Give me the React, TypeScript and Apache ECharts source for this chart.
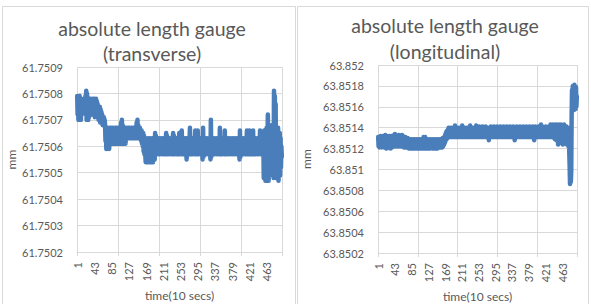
import React, { useEffect, useRef } from "react";
import * as echarts from "echarts";

const categories: string[] = Array.from({ length: 500 }, (_, i) => String(i + 1));

const yTicksTransverse = { min: 61.7502, max: 61.7509, step: 0.0001 };
const yTicksLongitudinal = { min: 63.8502, max: 63.852, step: 0.0002 };

const transverse: number[] = [
  61.75079,61.75072,61.75078,61.75070,61.75077,61.75071,61.75079,61.75073,61.75076,61.75070,61.75078,61.75072,61.75077,61.75073,61.75076,61.75074,61.75077,61.75073,61.75076,61.75074,
  61.75079,61.75072,61.75081,61.75070,61.75080,61.75073,61.75078,
  61.75070,61.75077,61.75071,61.75078,61.75072,61.75078,61.75073,61.75077,61.75072,61.75078,61.75072,61.75077,61.75073,61.75078,61.75072,61.75078,61.75071,61.75077,61.75073,61.75078,61.75072,61.75077,61.75072,61.75076,
  61.75076,61.75070,61.75075,61.75070,61.75075,61.75069,61.75074,61.75069,61.75073,61.75069,61.75072,61.75068,61.75071,61.75068,61.75071,61.75068,61.75070,
  61.75068,61.75062,61.75067,61.75059,61.75066,61.75060,61.75067,61.75061,
  61.75060,61.75066,61.75059,61.75065,
  61.75067,61.75061,61.75066,61.75062,61.75067,61.75061,61.75067,61.75062,61.75066,61.75061,61.75067,61.75061,61.75066,61.75062,61.75067,61.75061,61.75067,61.75062,61.75066,61.75061,61.75067,61.75062,61.75066,61.75061,61.75067,61.75061,61.75066,
  61.75069,61.75062,61.75070,61.75061,61.75068,
  61.75062,61.75067,61.75061,61.75066,61.75063,61.75067,61.75061,61.75067,
  61.75063,61.75067,61.75063,61.75066,61.75063,61.75067,61.75063,61.75067,61.75064,61.75066,61.75063,61.75067,61.75063,61.75067,61.75063,61.75066,61.75063,61.75067,61.75064,61.75067,61.75063,61.75066,61.75063,61.75067,61.75063,
  61.75069,61.75063,61.75070,61.75063,61.75068,61.75064,61.75067,
  61.75063,61.75067,61.75063,61.75066,61.75062,61.75066,61.75061,61.75065,
  61.75060,61.75065,61.75058,61.75064,61.75057,61.75063,61.75057,
  61.75054,61.75063,61.75055,61.75062,61.75054,61.75063,61.75056,61.75062,61.75054,61.75063,61.75055,61.75062,61.75054,61.75063,61.75057,61.75062,61.75055,61.75063,61.75054,61.75062,61.75056,61.75063,61.75055,
  61.75065,61.75057,61.75064,
  61.75057,61.75063,61.75057,61.75062,61.75058,61.75063,61.75057,61.75062,61.75057,61.75063,61.75058,61.75062,61.75057,61.75063,61.75057,61.75062,61.75058,61.75063,61.75057,61.75062,61.75057,61.75063,61.75057,61.75062,
  61.75065,61.75057,61.75064,
  61.75057,61.75063,61.75058,61.75062,61.75057,61.75063,61.75057,61.75062,61.75058,61.75063,61.75057,61.75062,61.75057,61.75063,
  61.75065,61.75057,61.75064,
  61.75057,61.75063,61.75057,61.75062,61.75058,61.75063,61.75057,61.75062,61.75057,61.75063,61.75057,61.75062,61.75065,
  61.75057,61.75063,61.75058,61.75062,61.75057,61.75066,61.75057,61.75063,61.75058,61.75062,
  61.75057,61.75063,61.75057,61.75062,61.75058,61.75063,61.75057,61.75055,61.75063,61.75057,61.75062,61.75058,61.75063,61.75057,61.75062,61.75067,61.75057,61.75063,61.75058,61.75062,
  61.75057,61.75063,61.75057,61.75062,61.75058,61.75063,61.75057,61.75062,61.75066,61.75057,61.75063,61.75058,61.75062,61.75057,61.75066,61.75057,61.75063,61.75057,61.75062,61.75058,
  61.75063,61.75057,61.75062,61.75058,61.75063,61.75057,61.75055,61.75067,61.75056,61.75063,61.75057,61.75062,61.75058,61.75063,61.75057,61.75062,61.75057,61.75063,61.75058,61.75062,
  61.75057,61.75063,61.75057,61.75062,61.75058,61.75055,61.75070,61.75056,61.75063,61.75057,61.75062,61.75058,61.75063,61.75057,61.75062,61.75057,61.75063,61.75058,61.75062,61.75057,
  61.75063,61.75057,61.75062,61.75058,61.75063,61.75057,61.75062,61.75057,61.75067,61.75057,61.75063,61.75058,61.75062,61.75057,61.75063,61.75057,61.75062,61.75058,61.75063,61.75057,
  61.75066,61.75057,61.75063,61.75058,61.75062,61.75057,61.75063,61.75057,61.75062,61.75058,61.75063,61.75057,61.75062,61.75057,61.75063,61.75058,61.75062,61.75057,61.75063,61.75057,
  61.75062,61.75058,61.75063,61.75057,61.75062,61.75057,61.75063,61.75058,61.75062,61.75057,61.75063,61.75057,61.75062,61.75058,61.75063,61.75057,61.75055,61.75066,61.75056,61.75063,
  61.75057,61.75062,61.75058,61.75063,61.75057,61.75062,61.75057,61.75063,61.75058,61.75062,61.75057,61.75063,61.75057,61.75062,61.75066,61.75057,61.75063,61.75058,61.75062,61.75057,
  61.75066,61.75057,61.75063,61.75058,61.75062,61.75057,61.75063,61.75057,61.75062,61.75066,61.75057,61.75063,61.75058,61.75062,61.75057,61.75063,61.75057,61.75062,61.75058,61.75063,
  61.75057,61.75062,61.75057,61.75063,61.75058,61.75062,61.75066,61.75057,61.75063,61.75057,61.75062,61.75058,61.75063,61.75057,
  61.75063,61.75048,61.75066,61.75052,61.75064,61.75047,61.75062,61.75050,61.75067,61.75048,61.75060,61.75072,61.75054,61.75047,61.75063,61.75049,61.75066,
  61.75054,61.75066,61.75055,61.75068,61.75053,61.75067,61.75056,61.75066,
  61.75048,61.75081,61.75050,61.75079,61.75060,61.75076,61.75048,
  61.75066,61.75048,61.75064,61.75052,61.75067,61.75047,61.75062,61.75050,61.75065,61.75049,61.75063,61.75052,61.75060,61.75056,
];

const longitudinal: number[] = [
  63.85131,63.85122,63.8513,63.85121,63.85131,63.85123,63.85132,63.85122,63.8513,63.85121,
  63.85131,63.85122,63.85132,63.85123,63.8513,63.85121,63.85131,63.85122,63.85133,63.85123,
  63.85131,63.8512,63.85132,63.85121,63.8513,63.85122,63.85131,63.85123,63.85132,63.85121,
  63.8513,63.8512,63.85131,63.85122,63.85132,63.85121,63.8513,63.85123,63.85131,63.85122,
  63.85133,63.85123,63.85134,63.85122,63.85133,
  63.85123,63.85132,63.85122,63.85131,63.85123,63.85132,63.85122,63.85133,63.85124,63.85131,
  63.85122,63.85132,63.85123,63.85131,63.85122,63.85133,63.85123,63.85132,63.85122,63.85131,
  63.85121,63.8513,63.85122,63.85131,63.85121,63.8513,63.85121,63.85129,63.85122,63.8513,
  63.85121,
  63.85129,63.8512,63.85128,63.85121,63.85129,63.8512,63.85128,63.85121,63.85129,63.8512,
  63.85128,63.85121,63.85129,63.8512,63.85128,63.85121,63.85129,63.8512,63.85128,63.85121,
  63.85129,63.8512,63.85128,63.85121,63.85129,63.8512,63.85128,63.85121,63.85129,63.8512,
  63.85128,63.85121,63.85129,63.8512,63.85128,63.85121,63.85129,63.85121,63.85131,63.8512,
  63.8513,63.85121,63.85131,63.8512,63.85129,63.85121,63.85128,63.8512,63.85129,63.85121,
  63.85128,63.8512,63.85129,63.85121,63.85128,63.8512,63.85129,63.85121,63.85128,63.85121,
  63.85129,63.8512,63.85128,63.85121,63.85129,63.8512,63.85128,63.85121,63.85129,63.8512,
  63.85128,63.85121,63.85129,63.8512,63.85128,63.85121,63.85129,63.85121,63.85128,63.85121,
  63.85129,63.85121,63.85128,63.85122,63.85129,63.85121,63.8513,63.85122,
  63.85123,63.8513,63.85124,63.85132,63.85126,63.85134,63.85128,63.85136,63.85129,63.85137,63.8513,63.85138,
  63.85131,63.8514,63.85131,63.85139,63.85132,63.8514,63.85131,63.85139,63.85131,63.8514,
  63.85132,63.85139,63.85131,63.8514,63.85131,63.85139,63.85131,63.85142,63.85131,63.8514,
  63.85132,63.85139,63.85131,63.8514,63.85131,63.85139,63.85132,63.8514,63.85131,63.85139,
  63.85131,63.8514,63.85132,63.85139,63.85131,63.85142,63.85131,63.8514,63.85132,63.85139,
  63.85131,63.8514,63.85131,63.85139,63.85132,63.8514,63.85131,63.85139,63.85131,63.8514,
  63.85132,63.85139,63.85131,63.8514,63.85131,63.85142,63.85131,63.8514,63.85132,63.85139,
  63.85131,63.8514,63.85131,63.85139,63.85132,63.8514,63.85131,63.85139,63.85131,63.8514,
  63.85142,63.85131,63.8514,63.85132,63.85139,
  63.85131,63.8514,63.85131,63.85141,63.85132,63.8514,63.85131,63.85139,63.85131,63.8514,63.85132,63.85141,63.85131,63.8514,63.85131,63.85139,63.85132,63.8514,63.85131,63.85141,
  63.85131,63.8514,63.85132,63.85139,63.85131,63.8514,63.85131,63.85128,63.85139,63.85131,63.8514,63.85132,63.85141,63.85131,63.8514,63.85131,63.85139,63.85132,63.8514,63.85131,
  63.85141,63.85131,63.8514,63.85132,63.85139,63.85131,63.8514,63.85131,63.85141,63.85132,63.8514,63.85131,63.85139,63.85131,63.8514,63.85132,63.85141,63.85131,63.8514,63.85131,
  63.85139,63.85132,63.8514,63.85131,63.85141,63.85131,63.8514,63.85132,63.85139,63.85131,63.8514,63.85131,63.85141,63.85132,63.8514,63.85131,63.85139,63.85131,63.8514,63.85132,
  63.85141,63.85131,63.8514,63.85131,63.85139,63.85132,63.8514,63.85131,63.85141,63.85131,63.8514,63.85131,63.85128,63.85139,63.85131,63.8514,63.85132,63.85141,63.85131,63.8514,
  63.85131,63.85139,63.85132,63.8514,63.85131,63.85141,63.85131,63.8514,63.85132,63.85139,63.85131,63.8514,63.85131,63.85141,63.85132,63.8514,63.85131,63.85139,63.85131,63.8514,
  63.85132,63.85141,63.85131,63.8514,63.85131,63.85139,63.85132,63.8514,63.85131,63.85141,63.85131,63.8514,63.85132,63.85139,63.85131,63.8514,63.85131,63.85141,63.85132,63.8514,
  63.85131,63.85128,63.8514,63.85131,63.85141,63.85132,63.8514,63.85131,63.85139,63.85131,63.8514,63.85132,63.85141,63.85131,63.8514,63.85131,63.85139,63.85132,63.85143,63.85131,
  63.8514,63.85131,63.85141,63.85132,63.8514,63.85131,63.85139,63.85131,63.8514,63.85132,63.85141,63.85131,63.8514,63.85131,63.85139,63.85132,63.8514,63.85131,63.85141,63.85131,
  63.8514,63.85132,63.85143,63.85131,63.8514,63.85131,63.85141,63.85132,63.85143,63.85131,63.8514,63.8513,63.85142,63.85129,63.85143,63.85131,63.85141,63.85128,63.85143,63.8513,63.85141,
  63.85124,63.85142,63.85127,63.85143,63.85125,63.85141,63.8513,63.85143,63.85126,63.85142,63.85128,63.8514,63.85124,63.85142,63.85129,63.85143,63.85127,63.85141,63.85125,63.8514,
  63.85128,63.85141,63.85124,63.85138,63.8513,63.8514,63.85122,63.85136,63.85118,63.85104,63.85086,63.85092,63.85088,63.85098,63.8515,63.85176,
  63.85158,63.8518,63.8516,63.85178,63.85157,63.85181,63.85162,63.85176,63.85158,63.85179,63.8516,63.8517,
];

const LINE_COLOR = "#4A7EBB";
const GRID_COLOR = "#d9d9d9";
const TEXT_COLOR = "#595959";
const FONT = "Lato";

const fmt = (v: number) => String(parseFloat(v.toFixed(4)));

function makeX(gridIndex: number) {
  return {
    type: "category",
    gridIndex,
    data: categories,
    boundaryGap: true,
    axisLine: { show: true, lineStyle: { color: GRID_COLOR, width: 1 } },
    axisTick: { show: true, interval: 99, length: 4, lineStyle: { color: GRID_COLOR } },
    axisLabel: { interval: 41, rotate: 90, margin: 10, color: TEXT_COLOR, fontFamily: FONT, fontSize: 11 },
    splitLine: { show: true, interval: 99, lineStyle: { color: GRID_COLOR, width: 1 } },
    name: "time(10 secs)",
    nameLocation: "middle",
    nameGap: 35,
    nameTextStyle: { color: TEXT_COLOR, fontFamily: FONT, fontSize: 12 },
  };
}

function makeY(gridIndex: number, t: { min: number; max: number; step: number }, gap: number) {
  return {
    type: "value",
    gridIndex,
    min: t.min,
    max: t.max,
    interval: t.step,
    axisLine: { show: false },
    axisTick: { show: false },
    axisLabel: { margin: 14, color: TEXT_COLOR, fontFamily: FONT, fontSize: 11, formatter: fmt },
    splitLine: { show: true, lineStyle: { color: GRID_COLOR, width: 1 } },
    name: "mm",
    nameLocation: "middle",
    nameRotate: 90,
    nameGap: gap,
    nameTextStyle: { color: TEXT_COLOR, fontFamily: FONT, fontSize: 12 },
  };
}

function titleText(x: number, y: number, text: string) {
  return {
    type: "text",
    x,
    y,
    style: {
      text,
      align: "center",
      verticalAlign: "middle",
      fill: TEXT_COLOR,
      fontFamily: FONT,
      fontSize: 19.5,
    },
  };
}

export default function App() {
  const ref = useRef<HTMLDivElement>(null);
  useEffect(() => {
    if (!ref.current) return;
    const chart = echarts.init(ref.current, undefined, { renderer: "svg" });
    chart.setOption({
      animation: false,
      backgroundColor: "#ffffff",
      grid: [
        { left: 77, top: 67, width: 205, height: 185, outerBoundsMode: "none" },
        { left: 378, top: 65, width: 199, height: 188, outerBoundsMode: "none" },
      ],
      xAxis: [makeX(0), makeX(1)],
      yAxis: [makeY(0, yTicksTransverse, 60), makeY(1, yTicksLongitudinal, 66)],
      series: [
        {
          type: "line",
          xAxisIndex: 0,
          yAxisIndex: 0,
          data: transverse,
          showSymbol: false,
          symbol: "none",
          lineStyle: { color: LINE_COLOR, width: 4.5, join: "round", cap: "round" },
        },
        {
          type: "line",
          xAxisIndex: 1,
          yAxisIndex: 1,
          data: longitudinal,
          showSymbol: false,
          symbol: "none",
          lineStyle: { color: LINE_COLOR, width: 4.5, join: "round", cap: "round" },
        },
      ],
      graphic: [
        { type: "rect", shape: { x: 2.5, y: 6.5, width: 293, height: 300 }, style: { fill: "none", stroke: GRID_COLOR, lineWidth: 1 }, silent: true, z: -1 },
        { type: "rect", shape: { x: 297.5, y: 6.5, width: 291, height: 300 }, style: { fill: "none", stroke: GRID_COLOR, lineWidth: 1 }, silent: true, z: -1 },
        titleText(152, 28, "absolute length gauge"),
        titleText(152, 53, "(transverse)"),
        titleText(445, 25, "absolute length gauge"),
        titleText(445, 51, "(longitudinal)"),
      ],
    });
    return () => chart.dispose();
  }, []);
  return <div ref={ref} style={{ position: "fixed", left: 0, top: 0, width: 591, height: 304 }} />;
}
